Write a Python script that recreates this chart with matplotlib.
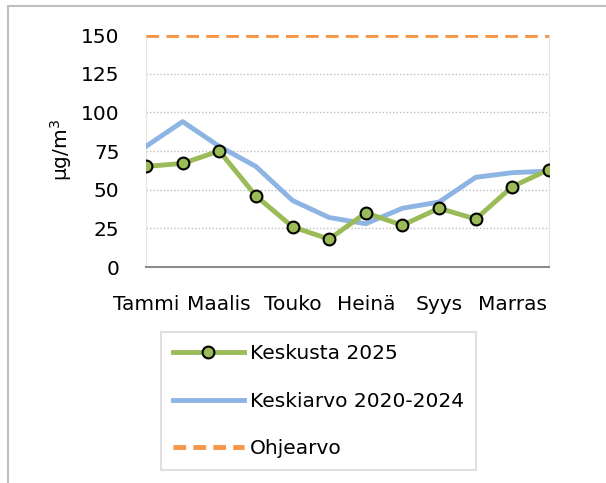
import matplotlib
matplotlib.use("Agg")
import matplotlib.pyplot as plt
from matplotlib.patches import Rectangle

# kuukaudet (joka toinen näytetään akselilla)
months = ["Tammi", "Helmi", "Maalis", "Huhti", "Touko", "Kesä",
          "Heinä", "Elo", "Syys", "Loka", "Marras", "Joulu"]
keskusta_2025 = [65, 67, 75, 46, 26, 18, 35, 27, 38, 31, 52, 63]
keskiarvo_2020_2024 = [78, 94, 78, 65, 43, 32, 28, 38, 42, 58, 61, 62]
ohjearvo = [150] * 12
yticks = [0, 25, 50, 75, 100, 125, 150]

green = "#9BBB59"
blue = "#8EB4E3"
orange = "#F79646"

plt.rcParams['font.family'] = ['DejaVu Sans']

fig = plt.figure(figsize=(6.06, 4.83), dpi=100)
ax = fig.add_axes([0.2409, 0.4472, 0.6650, 0.4803])

x = list(range(len(months)))
l1, = ax.plot(x, keskusta_2025, color=green, lw=3.5, marker="o", ms=8.5,
              mfc=green, mec="black", mew=1.5, zorder=4, label="Keskusta 2025")
l2, = ax.plot(x, keskiarvo_2020_2024, color=blue, lw=3.5, zorder=3,
              label="Keskiarvo 2020-2024")
l3, = ax.plot(x, ohjearvo, color=orange, lw=3.5, dashes=(2.6, 1.5), zorder=3,
              label="Ohjearvo")

ax.set_xlim(0, 11)
ax.set_ylim(0, 150)
ax.set_yticks(yticks)
ax.set_yticklabels([str(v) for v in yticks], fontsize=14.5)
ax.set_xticks(x[::2])
ax.set_xticklabels(months[::2], fontsize=14.5)
ax.tick_params(axis="both", length=0)
ax.tick_params(axis="y", pad=19)
ax.tick_params(axis="x", pad=20)

for v in yticks[1:-1]:
    ax.axhline(v, color="#BFBFBF", lw=1, ls=(0, (1, 1.5)), zorder=1)

ax.spines["top"].set_visible(False)
for s in ["left", "right"]:
    ax.spines[s].set_color("#E3E3E3")
    ax.spines[s].set_linewidth(0.8)
ax.spines["bottom"].set_color("#8C8C8C")
ax.spines["bottom"].set_linewidth(1.5)

fig.text(61 / 606, 1 - 150 / 483, "µg/m$^3$", rotation=90, fontsize=14.5,
         ha="center", va="center")

leg = fig.legend(handles=[l1, l2, l3], loc="upper left",
                 bbox_to_anchor=(161 / 606, 1 - 332 / 483),
                 fontsize=14.5, frameon=True, fancybox=False,
                 handlelength=3.5, handletextpad=0.3, labelspacing=1.42,
                 borderpad=0.6, borderaxespad=0)
leg.get_frame().set_edgecolor("#D9D9D9")
leg.get_frame().set_linewidth(1.5)

# ulkokehys
fig.patches.append(Rectangle((8 / 606, -0.1), 1.2, 1 - 6 / 483 + 0.1,
                             transform=fig.transFigure, fill=False,
                             edgecolor="#BFBFBF", lw=1.5))

fig.savefig("out.png", dpi=100)
